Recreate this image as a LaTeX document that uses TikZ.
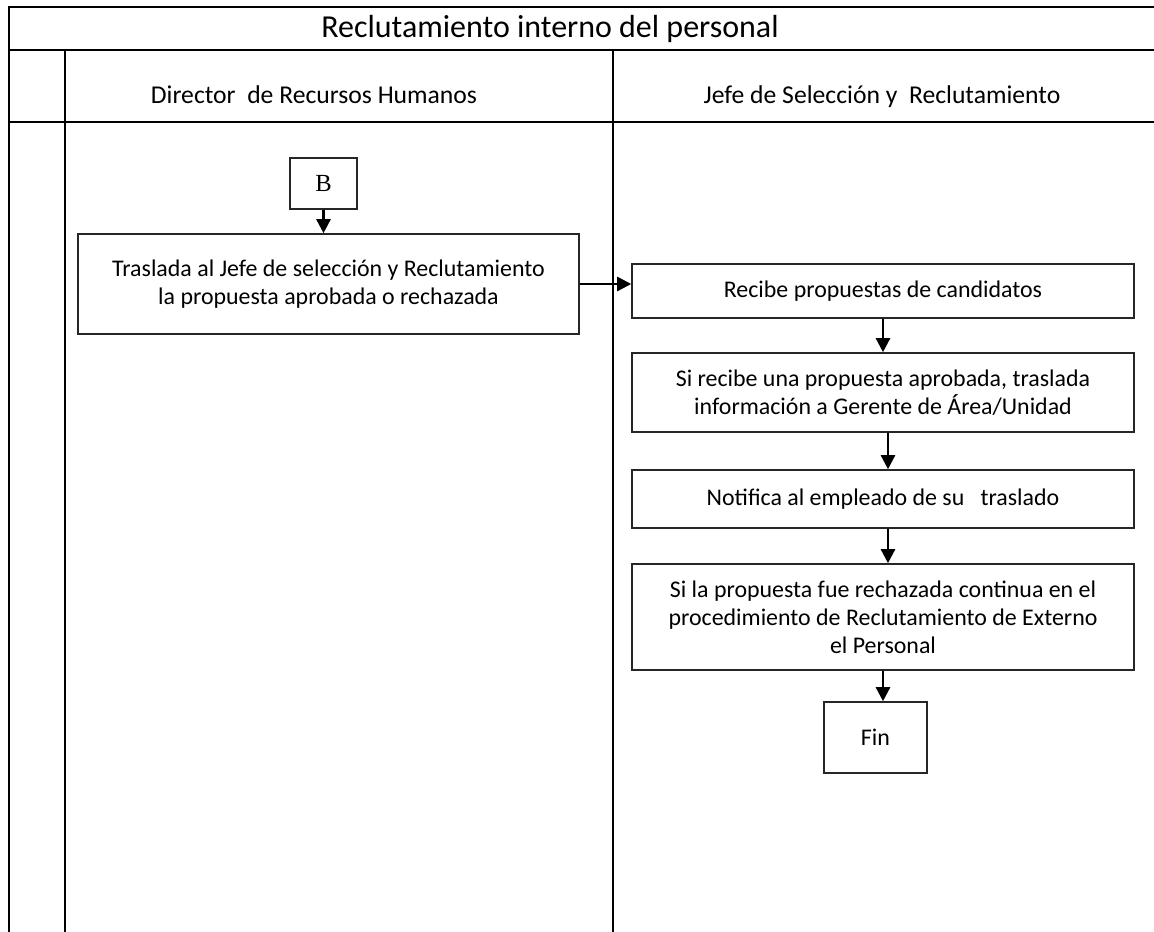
\documentclass[tikz,border=0pt]{standalone}
\usepackage{fontspec}
\setmainfont{Carlito}
\newfontfamily\serifB{Liberation Serif}
\usetikzlibrary{arrows.meta}

\begin{document}
\begin{tikzpicture}[x=0.02cm,y=-0.02cm,
      carril/.style={line width=1.7pt},
      caja/.style={draw=black!85,line width=0.9pt,inner sep=0pt,align=center,
        font=\fontsize{13.6}{16}\selectfont},
      encabezado/.style={anchor=base,font=\fontsize{14.6}{17}\selectfont},
      flecha/.style={line width=1.4pt,-{Triangle[length=8pt,width=8pt]}}]
      \useasboundingbox (0,0) rectangle (1154,932);

      \draw[carril] (1154,7) -- (9,7) -- (9,932)
      (9,50) -- (1154,50) (9,122) -- (1154,122)
      (65,50) -- (65,932) (613,50) -- (613,932);

      \node[anchor=base,font=\fontsize{18.2}{21}\selectfont] (titulo) at (550,38) {Reclutamiento interno del personal};
      \node[encabezado] (director) at (314,104) {Director\ \ de Recursos Humanos};
      \node[encabezado] (jefe) at (882,104) {Jefe de Selección y\ \ Reclutamiento};

      \node[caja,minimum width=1.34cm,minimum height=1.02cm,font=\serifB\fontsize{14}{16}\selectfont] (b) at (323.5,183.5) {B};
      \node[caja,minimum width=10.02cm,minimum height=2cm] (traslada) at (328.5,284)
      {Traslada al Jefe de selección y Reclutamiento\\la propuesta aprobada o rechazada};
      \node[caja,minimum width=10.04cm,minimum height=1.08cm] (recibe) at (883,291)
      {Recibe propuestas de candidatos};
      \node[caja,minimum width=10.04cm,minimum height=1.58cm] (aprobada) at (883,392.5)
      {Si recibe una propuesta aprobada, traslada\\información a Gerente de Área/Unidad};
      \node[caja,minimum width=10.04cm,minimum height=1.16cm] (notifica) at (883,499)
      {Notifica al empleado de su\ \ \ traslado};
      \node[caja,minimum width=10.04cm,minimum height=2.12cm] (rechazada) at (883,617)
      {Si la propuesta fue rechazada continua en el\\procedimiento de Reclutamiento de Externo\\el Personal};
      \node[caja,minimum width=2.06cm,minimum height=1.42cm] (fin) at (875.5,737.5) {Fin};

      \draw[flecha] (b.south) -- (b.south |- traslada.north);
      \draw[flecha] (traslada.east) -- (traslada.east -| recibe.west);
      \draw[flecha] (recibe) -- (aprobada);
      \draw[flecha] ([xshift=0.1cm]aprobada.south) -- ([xshift=0.1cm]notifica.north);
      \draw[flecha] ([xshift=0.1cm]notifica.south) -- ([xshift=0.1cm]rechazada.north);
      \draw[flecha] (rechazada.south) -- (rechazada.south |- fin.north);
    \end{tikzpicture}
\end{document}
